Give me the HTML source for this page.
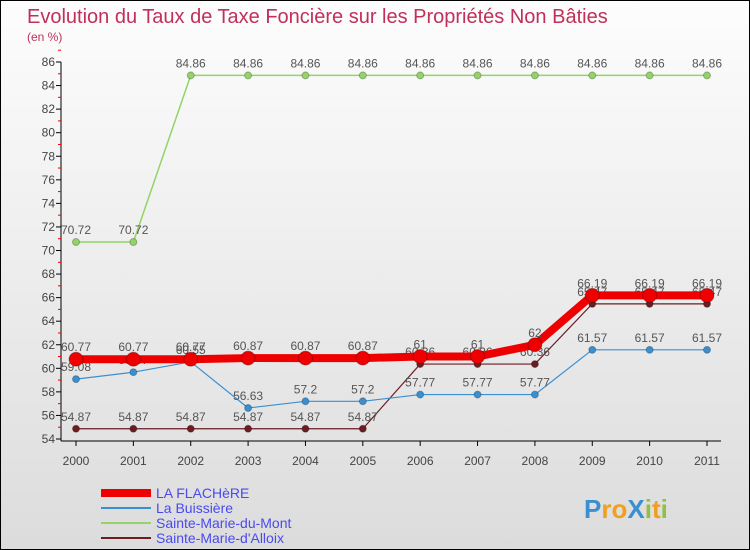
<!DOCTYPE html>
<html><head><meta charset="utf-8"><style>
body{margin:0}
#c{width:750px;height:550px;position:relative;box-sizing:border-box;border:1px solid #000;background:linear-gradient(#fdfdfd,#dcdcdc);font-family:"Liberation Sans",sans-serif;overflow:hidden}
</style></head><body>
<div id="c">
<svg id="s" width="750" height="550"></svg>
</div>
<script>
const years=[2000,2001,2002,2003,2004,2005,2006,2007,2008,2009,2010,2011];
const flachere=[60.77,60.77,60.77,60.87,60.87,60.87,61,61,62,66.19,66.19,66.19];
const buissiere=[59.08,59.67,60.55,56.63,57.2,57.2,57.77,57.77,57.77,61.57,61.57,61.57];
const smMont=[70.72,70.72,84.86,84.86,84.86,84.86,84.86,84.86,84.86,84.86,84.86,84.86];
const smAlloix=[54.87,54.87,54.87,54.87,54.87,54.87,60.36,60.36,60.36,65.47,65.47,65.47];
const yTicks=[54,56,58,60,62,64,66,68,70,72,74,76,78,80,82,84,86];
const NS="http://www.w3.org/2000/svg",svg=document.getElementById('s');
const X=i=>75+i*(706-75)/11, Y=v=>438-(v-54)*(438-61)/32;
function el(t,a,txt){const e=document.createElementNS(NS,t);for(const k in a)e.setAttribute(k,a[k]);if(txt!==undefined)e.textContent=txt;svg.appendChild(e);return e;}
let t=el('text',{x:26,y:22,'font-size':20,fill:'#c0305a'},'Evolution du Taux de Taxe Foncière sur les Propriétés Non Bâties');

t=el('text',{x:26,y:40,'font-size':12,fill:'#c0305a'},'(en %)');

let a=el('line',{x1:60,y1:61,x2:60,y2:440,stroke:'#000'});
a=el('line',{x1:60,y1:440,x2:720,y2:440,stroke:'#000'});
yTicks.forEach(v=>{const l=el('line',{x1:55,y1:Y(v),x2:60,y2:Y(v),stroke:'#000'});
 const m=el('line',{x1:57,y1:Y(v+1),x2:60,y2:Y(v+1),stroke:'#e00'});
 const tx=el('text',{x:54,y:Y(v)+4,'font-size':12,fill:'#444','text-anchor':'end'},v);});
years.forEach((y,i)=>{const l=el('line',{x1:X(i),y1:440,x2:X(i),y2:445,stroke:'#000'});
 const tx=el('text',{x:X(i),y:464,'font-size':12,fill:'#444','text-anchor':'middle'},y);});
function series(d,col,w,r,name){
 const p=el('polyline',{points:d.map((v,i)=>X(i)+','+Y(v)).join(' '),fill:'none',stroke:col,'stroke-width':w});
 
 d.forEach((v,i)=>{const c=el('circle',{cx:X(i),cy:Y(v),r:r,fill:col,stroke:'rgba(0,0,0,0.25)'});
  const tx=el('text',{x:X(i),y:Y(v)-8,'font-size':12,fill:'#555','text-anchor':'middle'},String(v));});
}
series(smMont,'#92d466',1.5,3.5,'sainte-marie-du-mont');
series(smAlloix,'#6b1d22',1.2,3.5,'sainte-marie-d-alloix');
series(buissiere,'#3a8fd0',1.2,3.5,'la-buissiere');
series(flachere,'#ee0000',8,7,'la-flachere');
const leg=[['LA FLACHèRE','#ee0000',8],['La Buissière','#3a8fd0',2],['Sainte-Marie-du-Mont','#92d466',2],['Sainte-Marie-d\'Alloix','#6b1d22',2]];
leg.forEach((g,i)=>{const yy=492+i*15;const l=el('line',{x1:100,y1:yy,x2:150,y2:yy,stroke:g[1],'stroke-width':g[2]});
 const tx=el('text',{x:155,y:yy+5,'font-size':14,fill:'#4a4af0'},g[0]);});
t=el('text',{x:583,y:517,'font-size':26,'font-weight':'bold'});
[['P','#3a8fd0'],['r','#f0a020'],['o','#f0a020'],['X','#3a8fd0'],['i','#92c040'],['t','#f0a020'],['i','#92c040']].forEach(c=>{const s=document.createElementNS(NS,'tspan');s.setAttribute('fill',c[1]);s.textContent=c[0];t.appendChild(s);});
</script>
</body></html>
